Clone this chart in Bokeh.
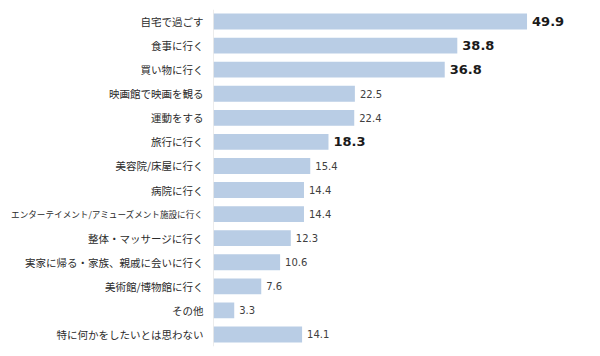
from bokeh.plotting import figure
from bokeh.models import ColumnDataSource, FactorRange, Range1d, Span
from bokeh.layouts import row
from bokeh.core.properties import value
from bokeh.embed import file_html
from bokeh.resources import INLINE

categories = [
    "自宅で過ごす",
    "食事に行く",
    "買い物に行く",
    "映画館で映画を観る",
    "運動をする",
    "旅行に行く",
    "美容院/床屋に行く",
    "病院に行く",
    "エンターテイメント/アミューズメント施設に行く",
    "整体・マッサージに行く",
    "実家に帰る・家族、親戚に会いに行く",
    "美術館/博物館に行く",
    "その他",
    "特に何かをしたいとは思わない",
]
values = [49.9, 38.8, 36.8, 22.5, 22.4, 18.3, 15.4, 14.4, 14.4, 12.3, 10.6, 7.6, 3.3, 14.1]
highlighted = ["自宅で過ごす", "食事に行く", "買い物に行く", "旅行に行く"]

# styles derived from the data
label_sizes = ["%.1fpx" % min(10.5, 198.0 / len(c)) for c in categories]
val_text = ["%.1f" % v for v in values]
val_sizes = ["13px" if c in highlighted else "10px" for c in categories]
val_styles = ["bold" if c in highlighted else "normal" for c in categories]
val_colors = ["#1a1a1a" if c in highlighted else "#404040" for c in categories]

src = ColumnDataSource(dict(
    cat=categories, val=values, vtxt=val_text, lfs=label_sizes,
    vfs=val_sizes, vst=val_styles, vcol=val_colors,
    one=[1] * len(categories),
))

yr = FactorRange(*reversed(categories))

# left panel: category labels
lp = figure(
    width=213, height=350, y_range=yr, x_range=Range1d(0, 1),
    x_axis_location=None, y_axis_location=None,
    output_backend="svg", toolbar_location=None,
    min_border_left=0, min_border_right=0, min_border_top=9, min_border_bottom=4,
)
lp.outline_line_color = None
lp.xgrid.grid_line_color = None
lp.ygrid.grid_line_color = None
lp.text(x="one", y="cat", text="cat", source=src, x_offset=-10,
        text_align="right", text_baseline="middle",
        text_font=value("Noto Sans CJK JP"), text_font_size="lfs",
        text_color="#2b2b2b")

# right panel: bars
p = figure(
    width=385, height=350, y_range=yr, x_range=Range1d(0, 60),
    x_axis_location=None, y_axis_location=None,
    output_backend="svg", toolbar_location=None,
    min_border_left=0, min_border_right=8, min_border_top=9, min_border_bottom=4,
)
p.outline_line_color = None
p.xgrid.grid_line_color = None
p.ygrid.grid_line_color = None

p.hbar(y="cat", right="val", left=0, height=0.66, source=src,
       fill_color="#b9cde5", line_color=None)

p.add_layout(Span(location=0, dimension="height", line_color="#d9d9d9", line_width=1))

p.text(x="val", y="cat", text="vtxt", source=src,
       x_offset=5, text_align="left", text_baseline="middle",
       text_font=value("DejaVu Sans"), text_font_size="vfs",
       text_font_style="vst", text_color="vcol")

layout = row(lp, p)
open("out.html", "w").write(file_html(layout, INLINE))
